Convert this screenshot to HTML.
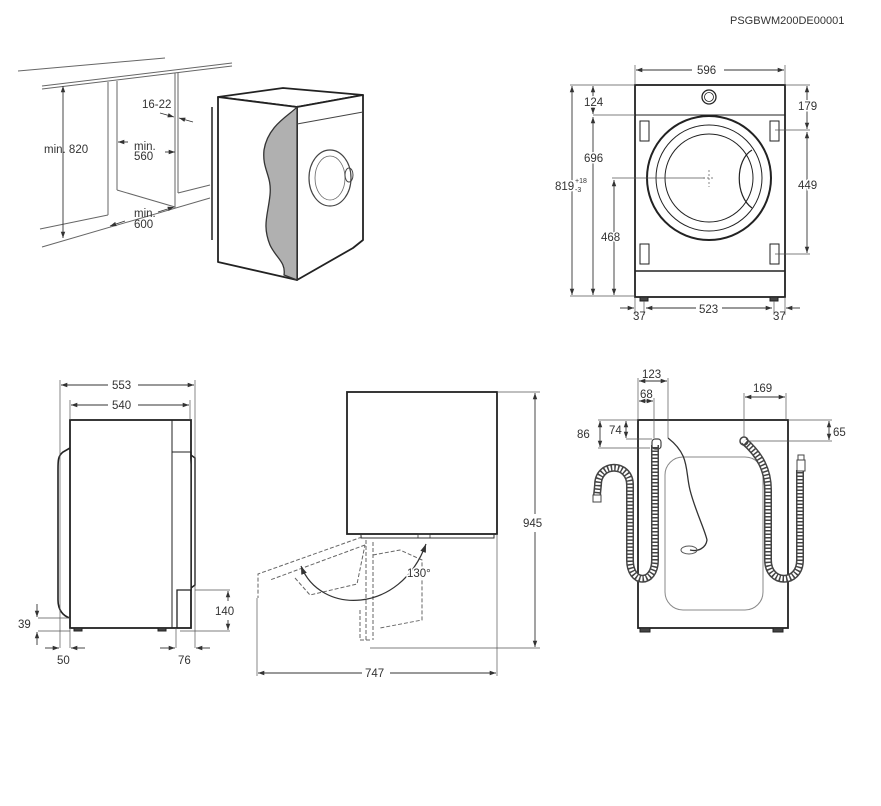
<!DOCTYPE html>
<html><head><meta charset="utf-8"><style>
body{margin:0;background:#fff}
svg{display:block}
text{font-family:"Liberation Sans",sans-serif;font-size:11.5px;fill:#333}
</style></head><body>
<svg width="881" height="806" viewBox="0 0 881 806" xmlns="http://www.w3.org/2000/svg">
<defs>
<marker id="a" viewBox="0 0 10 10" refX="10" refY="5" markerWidth="7" markerHeight="7" orient="auto-start-reverse"><path d="M0,1.5L10,5L0,8.5z" fill="#333"/></marker>
</defs>
<text x="730" y="24" style="font-size:11px">PSGBWM200DE00001</text>

<g stroke="#666" stroke-width="1" fill="none">
<line x1="18" y1="71" x2="165" y2="58"/>
<line x1="42" y1="86" x2="232" y2="63"/>
<line x1="42" y1="89" x2="232" y2="66"/>
<line x1="108" y1="82" x2="108" y2="215"/>
<line x1="117" y1="81" x2="117" y2="190"/>
<line x1="175" y1="73" x2="175" y2="208"/>
<line x1="178" y1="73" x2="178" y2="193"/>
<line x1="117" y1="190" x2="175" y2="207"/>
<line x1="178" y1="193" x2="210" y2="185"/>
<line x1="40" y1="229" x2="108" y2="215"/>
<line x1="42" y1="247" x2="210" y2="198"/>
</g>
<g stroke="#333" stroke-width="0.9" fill="none">
<line x1="63" y1="86" x2="63" y2="238" marker-start="url(#a)" marker-end="url(#a)"/>
<line x1="160" y1="113" x2="174" y2="117" marker-end="url(#a)"/>
<line x1="193" y1="122" x2="179" y2="118" marker-end="url(#a)"/>
<line x1="128" y1="142" x2="118" y2="142" marker-end="url(#a)"/>
<line x1="165" y1="152" x2="175" y2="152" marker-end="url(#a)"/>
<line x1="158" y1="212" x2="174" y2="207" marker-end="url(#a)"/>
<line x1="125" y1="221" x2="110" y2="226" marker-end="url(#a)"/>
</g>
<text x="44" y="153">min. 820</text>
<text x="142" y="108">16-22</text>
<text x="134" y="150">min.</text><text x="134" y="160">560</text>
<text x="134" y="217">min.</text><text x="134" y="228">600</text>

<g stroke="#222" stroke-width="1.8" fill="#fff" stroke-linejoin="round">
<polygon points="218,97 283,88 363,95 297,107"/>
<polygon points="297,107 363,95 363,240 353,248 297,280"/>
<polygon points="218,97 297,107 297,280 218,262"/>
</g>
<line x1="212" y1="107" x2="212" y2="240" stroke="#222" stroke-width="1.5"/>
<path d="M297,107 C290,115 268,125 264,150 C262,170 272,175 270,195 C268,215 262,225 270,245 C276,258 286,262 284,275 L297,280 Z" fill="#b0b0b0" stroke="#333" stroke-width="1.3"/>
<line x1="297" y1="124" x2="363" y2="112" stroke="#444" stroke-width="1"/>
<ellipse cx="330" cy="178" rx="21" ry="28" fill="none" stroke="#444" stroke-width="1.2"/>
<ellipse cx="330" cy="178" rx="15" ry="22" fill="none" stroke="#666" stroke-width="0.8"/>
<ellipse cx="349" cy="175" rx="4" ry="7" fill="none" stroke="#444" stroke-width="1"/>

<g stroke="#222" fill="none">
<rect x="635" y="85" width="150" height="212" stroke-width="1.8"/>
<line x1="635" y1="115" x2="785" y2="115" stroke-width="1"/>
<line x1="635" y1="271" x2="785" y2="271" stroke-width="1.6"/>
<circle cx="709" cy="97" r="7" stroke-width="1.3"/><circle cx="709" cy="97" r="4.5" stroke-width="0.8"/>
<circle cx="709" cy="178" r="62" stroke-width="2"/>
<circle cx="709" cy="178" r="53" stroke-width="1"/>
<circle cx="709" cy="178" r="44" stroke-width="1"/>
<path d="M752,150 C735,160 735,196 752,208" stroke-width="1.2"/>
<rect x="640" y="121" width="9" height="20" stroke-width="1"/>
<rect x="640" y="244" width="9" height="20" stroke-width="1"/>
<rect x="770" y="121" width="9" height="20" stroke-width="1"/>
<rect x="770" y="244" width="9" height="20" stroke-width="1"/>
<rect x="640" y="297" width="8" height="4" fill="#444"/>
<rect x="770" y="297" width="8" height="4" fill="#444"/>
</g>
<g stroke="#555" stroke-width="0.7" fill="none">
<line x1="635" y1="65" x2="635" y2="85"/><line x1="785" y1="65" x2="785" y2="85"/>
<line x1="570" y1="85" x2="635" y2="85"/><line x1="785" y1="85" x2="810" y2="85"/>
<line x1="593" y1="115" x2="635" y2="115"/>
<line x1="612" y1="178" x2="705" y2="178"/>
<line x1="775" y1="130" x2="810" y2="130"/><line x1="775" y1="254" x2="810" y2="254"/>
<line x1="570" y1="296" x2="635" y2="296"/>
<line x1="635" y1="297" x2="635" y2="315"/><line x1="644" y1="301" x2="644" y2="315"/>
<line x1="774" y1="301" x2="774" y2="315"/><line x1="785" y1="297" x2="785" y2="315"/>
<line x1="703" y1="178" x2="715" y2="178" stroke-dasharray="2,2"/><line x1="709" y1="170" x2="709" y2="187" stroke-dasharray="2,2"/>
</g>
<g stroke="#333" stroke-width="0.9" marker-start="url(#a)" marker-end="url(#a)">
<line x1="636" y1="70" x2="692" y2="70" marker-start="url(#a)" marker-end="none"/>
<line x1="724" y1="70" x2="784" y2="70" marker-start="none"/>
<line x1="572" y1="86" x2="572" y2="295"/>
<line x1="593" y1="86" x2="593" y2="114"/>
<line x1="593" y1="117" x2="593" y2="295"/>
<line x1="614" y1="180" x2="614" y2="295"/>
<line x1="807" y1="86" x2="807" y2="129"/>
<line x1="807" y1="132" x2="807" y2="253"/>
<line x1="646" y1="308" x2="696" y2="308" marker-end="none"/>
<line x1="722" y1="308" x2="772" y2="308" marker-start="none"/>
<line x1="620" y1="308" x2="634" y2="308" marker-start="none"/>
<line x1="800" y1="308" x2="786" y2="308" marker-start="none"/>
</g>
<text x="697" y="74">596</text>
<text x="584" y="106" style="paint-order:stroke;stroke:#fff;stroke-width:3px">124</text>
<text x="584" y="162" style="paint-order:stroke;stroke:#fff;stroke-width:3px">696</text>
<text x="555" y="190" style="paint-order:stroke;stroke:#fff;stroke-width:3px">819</text>
<text x="575" y="183" style="font-size:7px;paint-order:stroke;stroke:#fff;stroke-width:2px">+18</text><text x="575" y="192" style="font-size:7px;paint-order:stroke;stroke:#fff;stroke-width:2px">-3</text>
<text x="601" y="241" style="paint-order:stroke;stroke:#fff;stroke-width:3px">468</text>
<text x="798" y="110" style="paint-order:stroke;stroke:#fff;stroke-width:3px">179</text>
<text x="798" y="189" style="paint-order:stroke;stroke:#fff;stroke-width:3px">449</text>
<text x="699" y="313">523</text>
<text x="633" y="320">37</text><text x="773" y="320">37</text>

<g stroke="#222" fill="none">
<rect x="70" y="420" width="121" height="208" stroke-width="1.8"/>
<polyline points="172,420 172,628" stroke-width="1"/>
<line x1="172" y1="452" x2="191" y2="452" stroke-width="1"/>
<path d="M191,452 L191,590 L177,590 L177,628" stroke-width="1.3" fill="#fff"/>
<path d="M191,455 L195,458 L195,585 L191,588" stroke-width="1.5"/>
<path d="M70,448 L63,452 C58,456 58,460 58,470 L58,600 C58,610 63,616 70,618" stroke-width="1.6"/>
<rect x="74" y="628" width="8" height="3" fill="#444"/><rect x="158" y="628" width="8" height="3" fill="#444"/>
</g>
<g stroke="#555" stroke-width="0.7">
<line x1="60" y1="380" x2="60" y2="648"/><line x1="195" y1="380" x2="195" y2="648"/>
<line x1="70" y1="400" x2="70" y2="420"/><line x1="190" y1="400" x2="190" y2="420"/>
<line x1="70" y1="628" x2="70" y2="648"/><line x1="176" y1="628" x2="176" y2="648"/>
<line x1="38" y1="618" x2="70" y2="618"/><line x1="38" y1="631" x2="70" y2="631"/>
<line x1="195" y1="590" x2="230" y2="590"/><line x1="180" y1="631" x2="230" y2="631"/>
</g>
<g stroke="#333" stroke-width="0.9">
<line x1="61" y1="385" x2="108" y2="385" marker-start="url(#a)"/><line x1="138" y1="385" x2="194" y2="385" marker-end="url(#a)"/>
<line x1="71" y1="405" x2="108" y2="405" marker-start="url(#a)"/><line x1="138" y1="405" x2="189" y2="405" marker-end="url(#a)"/>
<line x1="37" y1="604" x2="37" y2="617" marker-end="url(#a)"/><line x1="37" y1="645" x2="37" y2="632" marker-end="url(#a)"/>
<line x1="228" y1="601" x2="228" y2="591" marker-end="url(#a)"/><line x1="228" y1="620" x2="228" y2="630" marker-end="url(#a)"/>
<line x1="45" y1="648" x2="59" y2="648" marker-end="url(#a)"/><line x1="85" y1="648" x2="71" y2="648" marker-end="url(#a)"/>
<line x1="160" y1="648" x2="175" y2="648" marker-end="url(#a)"/><line x1="210" y1="648" x2="196" y2="648" marker-end="url(#a)"/>
</g>
<text x="112" y="389">553</text><text x="112" y="409">540</text>
<text x="18" y="628">39</text><text x="215" y="615">140</text>
<text x="57" y="664">50</text><text x="178" y="664">76</text>

<rect x="347" y="392" width="150" height="142" fill="none" stroke="#222" stroke-width="1.8"/>
<path d="M361,534 L361,538 L494,538 L494,534" fill="none" stroke="#333" stroke-width="1"/>
<rect x="418" y="534" width="12" height="4" fill="none" stroke="#333" stroke-width="0.8"/>
<g stroke="#666" stroke-width="1" fill="none" stroke-dasharray="4,2">
<polyline points="362,537 258,574 258,598"/>
<polyline points="365,545 270,580"/>
<polyline points="295,578 310,595 357,584 365,545" />
<line x1="366" y1="540" x2="366" y2="640"/><line x1="373" y1="542" x2="373" y2="640"/>
<polyline points="373,555 400,550 422,560 422,620 380,628"/>
<polyline points="360,610 360,640 370,640"/>
</g>
<path d="M301,566 C320,615 400,615 426,544" fill="none" stroke="#333" stroke-width="1.2" marker-start="url(#a)" marker-end="url(#a)"/>
<g stroke="#555" stroke-width="0.7">
<line x1="497" y1="392" x2="540" y2="392"/><line x1="370" y1="648" x2="540" y2="648"/>
<line x1="257" y1="598" x2="257" y2="676"/><line x1="497" y1="534" x2="497" y2="676"/>
</g>
<g stroke="#333" stroke-width="0.9">
<line x1="535" y1="393" x2="535" y2="514" marker-start="url(#a)"/><line x1="535" y1="532" x2="535" y2="647" marker-end="url(#a)"/>
<line x1="258" y1="673" x2="362" y2="673" marker-start="url(#a)"/><line x1="390" y1="673" x2="496" y2="673" marker-end="url(#a)"/>
</g>
<text x="407" y="577" style="paint-order:stroke;stroke:#fff;stroke-width:3px">130°</text>
<text x="523" y="527">945</text><text x="365" y="677">747</text>

<g stroke="#222" fill="none">
<rect x="638" y="420" width="150" height="208" stroke-width="1.8"/>
<rect x="665" y="457" width="98" height="153" rx="18" stroke="#888" stroke-width="1"/>
<rect x="640" y="628" width="10" height="4" fill="#444"/><rect x="773" y="628" width="10" height="4" fill="#444"/>
</g>
<g fill="none" stroke-linecap="butt">
<path d="M655,445 L655,560 C655,585 630,585 630,560 L630,485 C630,462 598,462 598,485 L597,495" stroke="#444" stroke-width="8"/>
<path d="M655,445 L655,560 C655,585 630,585 630,560 L630,485 C630,462 598,462 598,485 L597,495" stroke="#fff" stroke-width="5" stroke-dasharray="2,1.5"/>
<path d="M744,441 C760,455 768,470 768,490 L768,560 C768,585 800,585 800,560 L800,470" stroke="#444" stroke-width="8"/>
<path d="M744,441 C760,455 768,470 768,490 L768,560 C768,585 800,585 800,560 L800,470" stroke="#fff" stroke-width="5" stroke-dasharray="2,1.5"/>
<path d="M668,438 C690,455 685,470 690,490 C695,510 705,530 707,540 C706,548 698,552 690,550" stroke="#333" stroke-width="1.3"/>
</g>
<rect x="652" y="439" width="9" height="10" rx="3" fill="none" stroke="#444" stroke-width="1.2"/>
<circle cx="744" cy="441" r="4" fill="none" stroke="#444" stroke-width="1.5"/>
<rect x="593" y="495" width="8" height="7" fill="#fff" stroke="#444"/>
<rect x="797" y="460" width="8" height="11" fill="#fff" stroke="#444"/>
<rect x="798" y="455" width="6" height="5" fill="#fff" stroke="#444"/>
<ellipse cx="689" cy="550" rx="8" ry="4" fill="none" stroke="#555"/>
<g stroke="#555" stroke-width="0.7">
<line x1="638" y1="378" x2="638" y2="420"/><line x1="668" y1="378" x2="668" y2="438"/>
<line x1="654" y1="398" x2="654" y2="438"/>
<line x1="744" y1="393" x2="744" y2="437"/><line x1="786" y1="393" x2="786" y2="420"/>
<line x1="598" y1="420" x2="638" y2="420"/><line x1="788" y1="420" x2="832" y2="420"/>
<line x1="626" y1="439" x2="652" y2="439"/><line x1="748" y1="441" x2="832" y2="441"/>
<line x1="598" y1="448" x2="650" y2="448"/>
</g>
<g stroke="#333" stroke-width="0.9" marker-start="url(#a)" marker-end="url(#a)">
<line x1="639" y1="381" x2="667" y2="381"/>
<line x1="639" y1="401" x2="653" y2="401"/>
<line x1="745" y1="397" x2="785" y2="397"/>
<line x1="600" y1="421" x2="600" y2="447"/>
<line x1="626" y1="421" x2="626" y2="438"/>
<line x1="829" y1="421" x2="829" y2="440"/>
</g>
<text x="642" y="378">123</text><text x="640" y="398">68</text><text x="753" y="392">169</text>
<text x="577" y="438">86</text><text x="609" y="434">74</text><text x="833" y="436">65</text>
</svg>
</body></html>
